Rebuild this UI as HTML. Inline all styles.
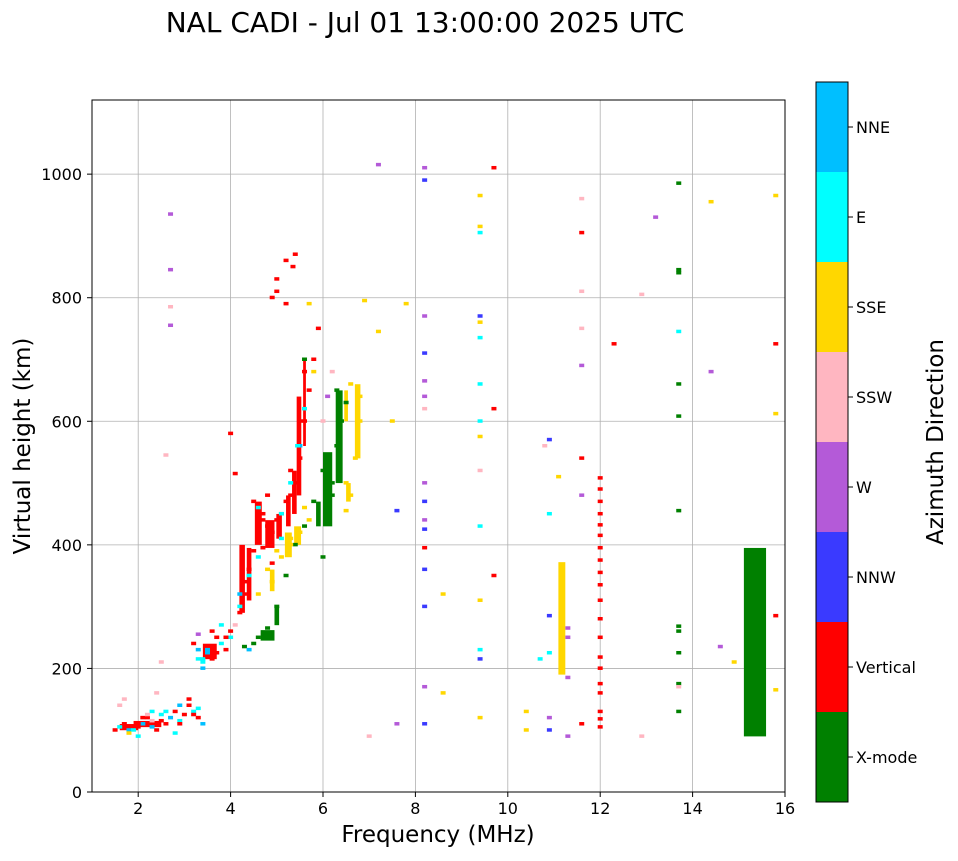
<!DOCTYPE html>
<html><head><meta charset="utf-8"><style>
body{margin:0;background:#fff;font-family:"DejaVu Sans",sans-serif}
svg text{font-family:"DejaVu Sans","Liberation Sans",sans-serif}
</style></head><body>
<svg id="chart" width="958" height="857" xmlns="http://www.w3.org/2000/svg">
<text x="425" y="32" font-size="28" text-anchor="middle">NAL CADI - Jul 01 13:00:00 2025 UTC</text>
<g id="grid"></g><g id="marks"></g><g id="axes"></g><g id="cbar"></g>
</svg>
<script>
const freqs=[1.5,1.6,1.7,1.8,1.9,2.0,2.1,2.2,2.3,2.4,2.5,2.6,2.7,2.8,2.9,3.0,3.1,3.2,3.3,1.6,1.8,2.1,2.3,2.6,2.9,3.1,3.4,1.7,2.0,2.4,2.8,3.2,
3.2,3.3,3.4,3.5,3.6,3.7,3.8,3.3,3.5,3.7,3.4,3.6,3.9,4.0,4.1,4.2,4.3,4.4,4.5,4.6,4.7,4.8,4.9,5.0,5.1,5.2,5.3,5.4,5.5,5.6,5.7,5.8,5.9,4.6,4.8,5.0,5.2,5.4,5.6,4.9,5.0,5.2,5.35,4.0,4.1,4.5,4.7,
4.3,4.5,4.6,4.8,5.0,5.2,5.4,5.6,5.8,6.0,6.1,6.2,6.3,6.4,6.5,6.3,6.2,6.0,
4.9,5.0,5.1,5.3,5.5,5.7,6.6,6.7,6.8,6.8,6.6,6.5,4.6,4.8,5.3,5.6,5.7,6.5,6.9,
3.3,3.5,4.0,4.2,4.4,5.1,5.3,5.5,6.0,6.1,6.2,5.8,5.6,2.7,
2.7,2.7,2.7,2.6,2.5,4.4,7.2,7.0,7.2,7.5,7.8,7.6,7.6,
8.2,8.2,8.2,8.2,8.2,8.2,8.2,8.2,8.2,8.2,8.2,8.2,8.2,8.2,8.2,8.2,8.6,8.6,
9.4,9.4,9.4,9.4,9.4,9.4,9.4,9.4,9.4,9.4,9.4,9.4,9.4,9.4,9.4,9.7,9.7,9.7,
10.4,10.4,10.7,10.8,10.9,10.9,10.9,10.9,10.9,10.9,11.1,11.3,11.3,11.3,11.6,11.6,11.6,11.6,11.6,11.6,11.6,11.6,11.3,
12.3,12.9,12.9,13.2,13.7,13.7,13.7,13.7,13.7,13.7,13.7,13.7,13.7,13.7,13.7,13.7,13.7,14.4,14.4,14.6,14.9,15.8,15.8,15.8,15.8,15.8,
12,12,12,12,12,12,12,12,12,12,12,12,12,12,12,12,12,12,12,12,
4.6,4.7,4.9,5.1,5.3,5.45,5.5,5.6,4.35,4.2,3.8,3.9,3.4,3.6,2.3,2.5,2.9,3.3,2.0,2.2];
const heights=[100,105,110,100,100,105,110,120,115,100,125,110,120,130,115,125,140,130,120,140,95,120,105,130,110,150,110,150,90,160,95,125,
240,230,215,220,235,225,240,255,225,250,210,260,230,260,270,290,320,360,390,420,440,430,420,440,450,470,480,500,540,600,650,700,750,460,480,830,860,870,620,800,810,790,850,580,515,470,450,
235,240,250,265,300,350,400,430,470,520,545,500,560,600,630,650,480,380,
340,390,380,400,420,440,480,540,600,640,660,500,320,360,410,460,790,455,795,
215,230,250,300,350,450,500,560,600,640,680,680,700,935,
845,785,755,545,210,230,1015,90,745,600,790,455,110,
1010,990,770,710,665,640,620,500,470,440,425,395,360,300,170,110,320,160,
965,915,905,770,760,735,660,600,575,520,430,310,230,215,120,1010,620,350,
130,100,215,560,570,450,285,225,120,100,510,265,250,185,960,905,810,750,690,540,480,110,90,
725,805,90,930,985,845,840,745,660,608,455,268,260,225,175,130,170,955,680,235,210,965,725,612,285,165,
105,118,130,160,175,200,218,250,280,310,335,355,375,395,415,432,450,470,490,508,
380,395,370,410,520,560,600,680,340,320,270,250,200,215,130,115,140,135,110,125];
const dirs=[1,6,1,7,6,1,7,1,4,1,6,1,7,1,6,1,1,6,1,4,5,1,7,6,1,1,7,4,6,4,6,1,
1,7,6,1,1,1,6,3,7,1,6,1,1,1,4,1,1,1,1,1,1,1,1,1,1,1,1,1,1,1,1,1,1,6,1,1,1,1,6,1,1,1,1,1,1,1,1,
0,0,0,0,0,0,0,0,0,0,0,0,0,0,0,0,0,0,
5,5,5,5,5,5,5,5,5,5,5,5,5,5,5,5,5,5,5,
6,7,6,6,6,6,6,7,4,3,4,5,0,3,
3,4,3,4,4,7,3,4,5,5,5,2,3,
3,2,3,2,3,3,4,3,2,3,2,1,2,2,3,2,5,5,
5,5,6,2,5,6,6,6,5,4,6,5,6,2,5,1,1,1,
5,5,6,4,2,6,2,6,3,2,5,3,3,3,4,1,4,4,3,1,3,1,3,
1,4,4,3,0,0,0,6,0,0,0,0,0,0,0,0,4,5,3,3,5,5,1,5,1,5,
1,1,1,1,1,1,1,1,1,1,1,1,1,1,1,1,1,1,1,1,
6,1,1,6,1,6,1,1,1,7,6,1,7,1,6,1,7,6,1,4];
const spanFreqs=[15.35,11.17,4.25,4.4,4.6,4.85,5.05,5.25,5.38,5.48,5.6,3.55,2.2,1.8,4.8,5.0,6.1,6.35,5.9,6.75,6.55,5.25,5.45,4.9,6.5];
const spanLo=[90,190,290,310,400,395,410,430,450,480,560,215,105,100,245,270,430,500,430,540,470,380,400,325,600];
const spanHi=[395,372,400,395,470,440,450,480,520,640,700,240,115,110,262,300,550,650,470,660,500,420,430,360,650];
const spanDirs=[0,5,1,1,1,1,1,1,1,1,1,1,1,1,0,0,0,0,0,5,5,5,5,5,5];
const spanW=[0.48,0.15,0.12,0.1,0.15,0.2,0.12,0.1,0.1,0.1,0.06,0.3,0.6,0.4,0.3,0.1,0.2,0.15,0.1,0.12,0.1,0.15,0.15,0.1,0.08];
const cbLabels=["X-mode","Vertical","NNW","W","SSW","SSE","E","NNE"];
const colors=["#008000","#ff0000","#3a3aff","#b45ad8","#ffb6c1","#ffd700","#00ffff","#00bfff"];
const xTicks=[2,4,6,8,10,12,14,16];
const yTicks=[0,200,400,600,800,1000];
const NS="http://www.w3.org/2000/svg";
const X0=92,X1=785,Y0=792,Y1=100;
const sx=f=>X0+(f-1)/15*(X1-X0);
const sy=h=>Y0-h/1120*(Y0-Y1);
function mk(p,t,a){const e=document.createElementNS(NS,t);for(const k in a)e.setAttribute(k,a[k]);p.appendChild(e);return e;}
const grid=document.getElementById('grid'),marks=document.getElementById('marks'),axes=document.getElementById('axes'),cb=document.getElementById('cbar');
xTicks.forEach(v=>{const l=mk(grid,'line',{x1:sx(v),x2:sx(v),y1:Y1,y2:Y0,stroke:'#b0b0b0','stroke-width':0.8});

});
yTicks.forEach(v=>{const l=mk(grid,'line',{x1:X0,x2:X1,y1:sy(v),y2:sy(v),stroke:'#b0b0b0','stroke-width':0.8});

});
for(let i=0;i<spanFreqs.length;i++){
 const r=mk(marks,'rect',{x:sx(spanFreqs[i]-spanW[i]/2),y:sy(spanHi[i]),width:sx(spanW[i]+1)-X0,height:sy(spanLo[i])-sy(spanHi[i]),fill:colors[spanDirs[i]]});
 
 
}
for(let i=0;i<freqs.length;i++){
 const r=mk(marks,'rect',{x:sx(freqs[i])-2.5,y:sy(heights[i])-2,width:5,height:3.5,fill:colors[dirs[i]]});
 
 
}
const fr=mk(axes,'rect',{x:X0,y:Y1,width:X1-X0,height:Y0-Y1,fill:'none',stroke:'#000','stroke-width':1});


xTicks.forEach(v=>{mk(axes,'line',{x1:sx(v),x2:sx(v),y1:Y0,y2:Y0+5,stroke:'#000'});
 const t=mk(axes,'text',{x:sx(v),y:Y0+22,'font-size':16,'text-anchor':'middle'});t.textContent=v;
 
 });
yTicks.forEach(v=>{mk(axes,'line',{x1:X0-5,x2:X0,y1:sy(v),y2:sy(v),stroke:'#000'});
 const t=mk(axes,'text',{x:X0-10,y:sy(v)+6,'font-size':16,'text-anchor':'end'});t.textContent=v;
 
 });
const xt=mk(axes,'text',{x:438,y:842,'font-size':23,'text-anchor':'middle'});xt.textContent='Frequency (MHz)';


const yt=mk(axes,'text',{x:30,y:446,'font-size':23,'text-anchor':'middle',transform:'rotate(-90 30 446)'});yt.textContent='Virtual height (km)';


const CB0=802,CBH=90;
cbLabels.forEach((lab,i)=>{const y=CB0-(i+1)*CBH;
 const r=mk(cb,'rect',{x:816,y:y,width:32,height:CBH,fill:colors[i]});
 
 
 mk(cb,'line',{x1:848,x2:853,y1:y+CBH/2,y2:y+CBH/2,stroke:'#000'});
 const t=mk(cb,'text',{x:856,y:y+CBH/2+6,'font-size':16});t.textContent=lab;
 
 });
mk(cb,'rect',{x:816,y:CB0-8*CBH,width:32,height:8*CBH,fill:'none',stroke:'#000'});
const ct=mk(cb,'text',{x:943,y:442,'font-size':23,'text-anchor':'middle',transform:'rotate(-90 943 442)'});ct.textContent='Azimuth Direction';


</script>
</body></html>
